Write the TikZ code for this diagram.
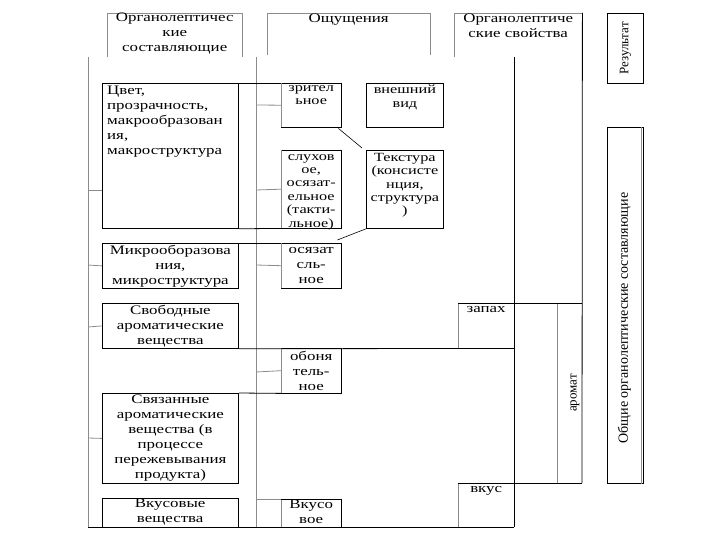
\documentclass[tikz,border=0pt]{standalone}
\usepackage{fontspec}
\setmainfont{Liberation Serif}
\newfontfamily\widefont[FakeStretch=1.3]{Liberation Serif}
\newcommand\celledges[1]{\draw[blk] (#1.north west) -- (#1.north east) -- (#1.south east) -- (#1.south west); \draw[gl] (#1.south west) -- (#1.north west);}
\newcommand\headedges[1]{\draw[gl] (#1.south west) -- (#1.north west) -- (#1.north east) -- (#1.south east);}
\begin{document}
\begin{tikzpicture}[x=1pt,y=-1pt,
  blk/.style={draw=black, line width=0.8pt},
  gl/.style={draw=black!45, line width=0.8pt},
  box/.style={draw=black, line width=0.8pt, inner sep=0pt, anchor=north west},
  cell/.style={inner sep=0pt, anchor=north west},
  bigtxt/.style={font=\widefont\fontsize{13}{15}\selectfont, align=center, inner sep=0pt},
  smtxt/.style={font=\widefont\fontsize{12.5}{13.4}\selectfont, align=center, inner sep=0pt},
  rottxt/.style={font=\fontsize{13}{15}\selectfont, rotate=90, inner sep=0pt}]
\useasboundingbox (0,0) rectangle (720,540);
% header boxes
\node[cell, minimum width=135pt, minimum height=44pt] (h1) at (107,13) {};
\node[cell, minimum width=163pt, minimum height=42pt] (h2) at (267,13) {};
\node[cell, minimum width=128pt, minimum height=44pt] (h3) at (454,13) {};
\headedges{h1}\headedges{h2}
\draw[gl] (h3.south west) -- (h3.north west) -- (h3.north east);
\node[bigtxt, anchor=north] (h1t) at (h1.north) {Органолептичес\\кие\\составляющие};
\node[bigtxt, anchor=north] (h2t) at ([yshift=-1pt]h2.north) {Ощущения};
\node[bigtxt, anchor=north] (h3t) at ([yshift=-1pt]h3.north) {Органолептиче\\ские свойства};
% frame coordinates
\coordinate (fl1) at (88,57); \coordinate (fl2) at (88,527);
\coordinate (fm1) at (256,57); \coordinate (fm2) at (256,527);
\coordinate (fr1) at (514,57); \coordinate (fr2) at (514,527);
\coordinate (fa2) at (582,483); \coordinate (fa1) at (582,303);
% left boxes
\node[box, minimum width=136pt, minimum height=145pt] (cvet) at (102,83) {};
\node[box, minimum width=136pt, minimum height=45pt] (mikro) at (102,243) {};
\node[box, minimum width=136pt, minimum height=45pt] (svob) at (102,303) {};
\node[box, minimum width=136pt, minimum height=90pt] (svyaz) at (102,393) {};
\node[cell, minimum width=136pt, minimum height=29pt] (vkusv) at (102,498) {};
\draw[blk] (vkusv.south west) -- (vkusv.north west) -- (vkusv.north east) -- (vkusv.south east);
% middle boxes
\node[cell, minimum width=60pt, minimum height=44pt] (zrit) at (281,83) {};
\node[cell, minimum width=60pt, minimum height=78pt] (sluh) at (281,150) {};
\node[cell, minimum width=60pt, minimum height=45pt] (osyaz) at (281,243) {};
\node[cell, minimum width=60pt, minimum height=45pt] (obon) at (281,348) {};
\node[cell, minimum width=60pt, minimum height=28pt] (vkuso) at (281,499) {};
\celledges{zrit}\celledges{sluh}\celledges{osyaz}\celledges{obon}
\draw[gl] (vkuso.south west) -- (vkuso.north west);
\draw[blk] (vkuso.north west) -- (vkuso.north east) -- (vkuso.south east);
\node[box, minimum width=77pt, minimum height=44pt] (vnesh) at (366,83) {};
\node[box, minimum width=77pt, minimum height=78pt] (tekst) at (366,150) {};
% right cells
\node[cell, minimum width=56pt, minimum height=45pt] (zapah) at (458,303) {};
\node[cell, minimum width=56pt, minimum height=44pt] (vkus) at (458,483) {};
\draw[gl] (zapah.south west) -- (zapah.north west);
\draw[gl] (vkus.south west) -- (vkus.north west);
\node[cell, minimum width=25pt, minimum height=180pt] (arom) at (557,303) {};
\draw[gl] (arom.north west) -- (arom.south west);
% result boxes
\node[box, minimum width=36pt, minimum height=70pt] (rez) at (607,13) {};
\node[box, minimum width=36pt, minimum height=356pt] (obsh) at (607,127) {};
\draw[gl] ([xshift=-2pt]obsh.north east) -- ([xshift=-2pt]obsh.south east);
% frame lines
\draw[gl] (fl1) -- (fl2);
\draw[gl] (fm1) -- (fm2);
\draw[blk] (fr1) -- (fr2);
\draw[blk] (fl2) -- (fr2);
\draw[blk] (h3.north east) -- (fa2);
% long horizontal lines
\draw[blk] (cvet.north east) -- (zrit.north west);
\draw[blk] (cvet.south east) -- (sluh.south west);
\draw[blk] (mikro.north east) -- (osyaz.north west);
\draw[blk] (svob.south east) -- (zapah.south east);
\draw[blk] (svyaz.north east) -- (obon.south west);
\draw[blk] (zapah.north west) -- (fa1);
\draw[blk] (vkus.north west) -- (fa2);
% stubs from left frame
\draw[gl] (88,190) -- (cvet.west |- 0,190);
\draw[gl] (88,265) -- (mikro.west);
\draw[gl] (88,327) -- (svob.west);
\draw[gl] (88,438) -- (svyaz.west);
% stubs from middle frame
\draw[gl] (256,105) -- (zrit.west);
\draw[gl] (256,190) -- (sluh.west);
\draw[gl] (256,265) -- (osyaz.west);
\draw[gl] (256,372) -- (obon.west);
\draw[gl] (256,499) -- (vkuso.north west);
% diagonal connectors
\draw[blk, line width=0.6pt] ([shift={(-3pt,-1pt)}]zrit.south east) -- ([shift={(-4pt,2pt)}]tekst.north west);
\draw[blk, line width=0.6pt] (tekst.south west) -- ([shift={(-4pt,3pt)}]osyaz.north east);
% texts
\node[bigtxt, align=left, anchor=north west] (cvett) at (107,86) {Цвет,\\прозрачность,\\макрообразован\\ия,\\макроструктура};
\node[bigtxt] (mikrot) at (mikro.center) {Микрооборазова\\ния,\\микроструктура};
\node[bigtxt] (svobt) at (svob.center) {Свободные\\ароматические\\вещества};
\node[bigtxt] (svyazt) at (svyaz.center) {Связанные\\ароматические\\вещества (в\\процессе\\пережевывания\\продукта)};
\node[bigtxt, anchor=north] (vkusvt) at ([yshift=-1pt]vkusv.north) {Вкусовые\\вещества};
\node[smtxt, anchor=north] (zritt) at ([yshift=-2pt]zrit.north) {зрител\\ьное};
\node[smtxt, anchor=north] (sluht) at ([yshift=-4pt]sluh.north) {слухов\\ое,\\осязат-\\ельное\\(такти-\\льное)};
\node[bigtxt] (osyazt) at (osyaz.center) {осязат\\сль-\\ное};
\node[bigtxt] (obont) at (obon.center) {обоня\\тель-\\ное};
\node[bigtxt, anchor=north] (vkusot) at ([yshift=-1pt]vkuso.north) {Вкусо\\вое};
\node[smtxt, anchor=north] (vnesht) at ([yshift=-2pt]vnesh.north) {внешний\\вид};
\node[smtxt, anchor=north] (tekstt) at ([yshift=-3pt]tekst.north) {Текстура\\(консисте\\нция,\\структура\\)};
\node[bigtxt, anchor=north] (zapaht) at ([yshift=-3pt]zapah.north) {запах};
\node[bigtxt, anchor=north] (vkust) at ([yshift=-3pt]vkus.north) {вкус};
\node[rottxt] (aromt) at (575,393) {аромат};
\node[rottxt] (rezt) at (rez.center) {Результат};
\node[rottxt, font=\fontsize{14}{16}\selectfont] (obsht) at ([xshift=-1pt]obsh.center |- 0,318) {Общие органолептические составляющие};
\end{tikzpicture}
\end{document}
